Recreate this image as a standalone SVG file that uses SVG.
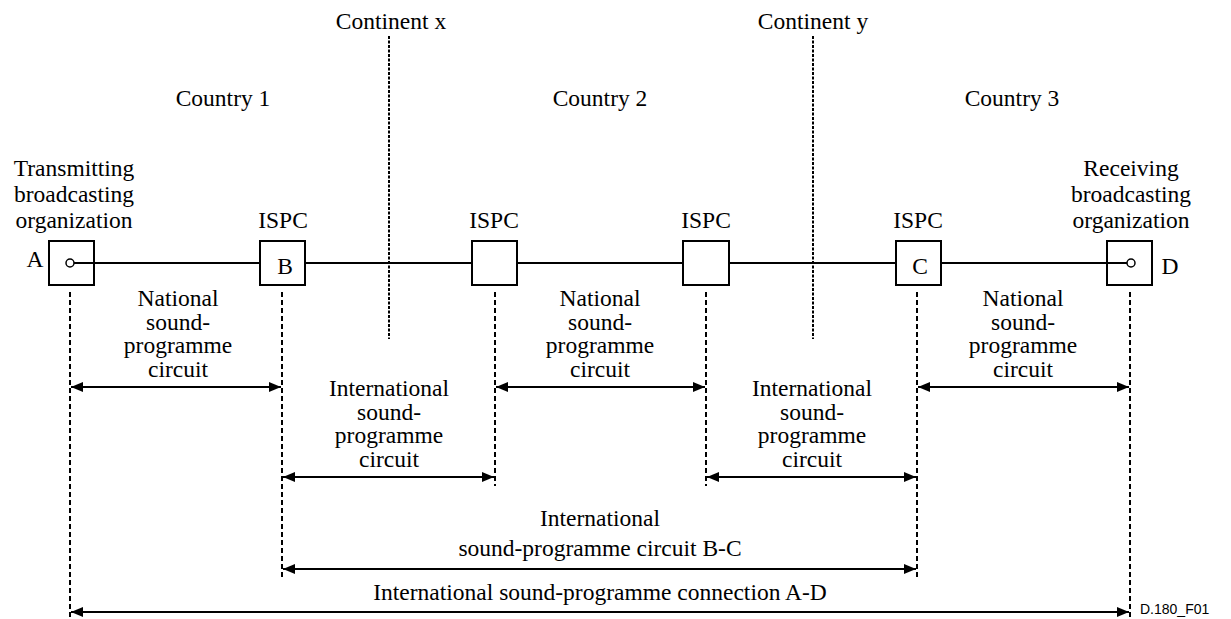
<svg xmlns="http://www.w3.org/2000/svg" width="1231" height="619" viewBox="0 0 1231 619">
<defs>
<style>
text{font-family:"Liberation Serif","Times New Roman",serif;font-size:23.5px;fill:#000;text-anchor:middle}
.box{fill:#fff;stroke:#000;stroke-width:2}
.wire{stroke:#000;stroke-width:2;fill:none}
.dash{stroke:#000;stroke-width:2;stroke-dasharray:5 3;fill:none}
.cont{stroke:#000;stroke-width:2;stroke-dasharray:3 1.5;fill:none}
.arr{stroke:#000;stroke-width:2;fill:none;marker-start:url(#ah);marker-end:url(#ah)}
.port{fill:#fff;stroke:#000;stroke-width:1.5}
.ref{font-family:"Liberation Sans",Arial,sans-serif;font-size:14px;text-anchor:start}
</style>
<marker id="ah" viewBox="0 0 12 10" refX="12" refY="5" markerWidth="12" markerHeight="10" markerUnits="userSpaceOnUse" orient="auto-start-reverse">
<path d="M0,0 L12,5 L0,10 Z" fill="#000"/>
</marker>
</defs>
<rect width="1231" height="619" fill="#fff"/>

<g id="labels">
<text x="391" y="29">Continent x</text>
<text x="813" y="29">Continent y</text>
<text x="223" y="106">Country 1</text>
<text x="600" y="106">Country 2</text>
<text x="1012" y="106">Country 3</text>
</g>

<g id="connectors">
<line class="wire" x1="74" y1="263" x2="1127" y2="263"/>
<line class="cont" x1="389" y1="36" x2="389" y2="339"/>
<line class="cont" x1="813" y1="36" x2="813" y2="339"/>
<line class="dash" x1="70" y1="292" x2="70" y2="619"/>
<line class="dash" x1="282" y1="292" x2="282" y2="578"/>
<line class="dash" x1="495" y1="292" x2="495" y2="486"/>
<line class="dash" x1="706" y1="292" x2="706" y2="486"/>
<line class="dash" x1="917" y1="292" x2="917" y2="578"/>
<line class="dash" x1="1130" y1="292" x2="1130" y2="619"/>
<line class="arr" x1="71" y1="387" x2="281" y2="387"/>
<line class="arr" x1="496" y1="387" x2="705" y2="387"/>
<line class="arr" x1="918" y1="387" x2="1129" y2="387"/>
<line class="arr" x1="283" y1="477" x2="494" y2="477"/>
<line class="arr" x1="707" y1="477" x2="916" y2="477"/>
<line class="arr" x1="283" y1="569" x2="916" y2="569"/>
<line class="arr" x1="71" y1="612" x2="1129" y2="612"/>
</g>

<g id="nodeA">
<text x="74" y="176">Transmitting</text>
<text x="74" y="202">broadcasting</text>
<text x="74" y="228">organization</text>
<rect class="box" x="49" y="241" width="45" height="44"/>
<circle class="port" cx="70" cy="263" r="4"/>
<line class="wire" x1="74" y1="263" x2="94" y2="263"/>
<text x="35" y="267">A</text>
</g>
<g id="nodeB">
<text x="283" y="228">ISPC</text>
<rect class="box" x="260" y="241" width="45" height="44"/>
<text x="285" y="274">B</text>
</g>
<g id="node3">
<text x="494" y="228">ISPC</text>
<rect class="box" x="472" y="241" width="45" height="44"/>
</g>
<g id="node4">
<text x="706" y="228">ISPC</text>
<rect class="box" x="683" y="241" width="46" height="44"/>
</g>
<g id="nodeC">
<text x="918" y="228">ISPC</text>
<rect class="box" x="896" y="241" width="45" height="44"/>
<text x="920" y="274">C</text>
</g>
<g id="nodeD">
<text x="1131" y="176">Receiving</text>
<text x="1131" y="202">broadcasting</text>
<text x="1131" y="228">organization</text>
<rect class="box" x="1107" y="241" width="45" height="44"/>
<line class="wire" x1="1107" y1="263" x2="1127" y2="263"/>
<circle class="port" cx="1131" cy="263" r="4"/>
<text x="1170" y="274">D</text>
</g>

<g id="circuit-labels">
<text x="178" y="306">National</text>
<text x="178" y="330">sound-</text>
<text x="178" y="353">programme</text>
<text x="178" y="377">circuit</text>
<text x="600" y="306">National</text>
<text x="600" y="330">sound-</text>
<text x="600" y="353">programme</text>
<text x="600" y="377">circuit</text>
<text x="1023" y="306">National</text>
<text x="1023" y="330">sound-</text>
<text x="1023" y="353">programme</text>
<text x="1023" y="377">circuit</text>
<text x="389" y="396">International</text>
<text x="389" y="420">sound-</text>
<text x="389" y="443">programme</text>
<text x="389" y="467">circuit</text>
<text x="812" y="396">International</text>
<text x="812" y="420">sound-</text>
<text x="812" y="443">programme</text>
<text x="812" y="467">circuit</text>
<text x="600" y="526">International</text>
<text x="600" y="556">sound-programme circuit B-C</text>
<text x="600" y="600">International sound-programme connection A-D</text>
<text class="ref" x="1140" y="614">D.180_F01</text>
</g>
</svg>
